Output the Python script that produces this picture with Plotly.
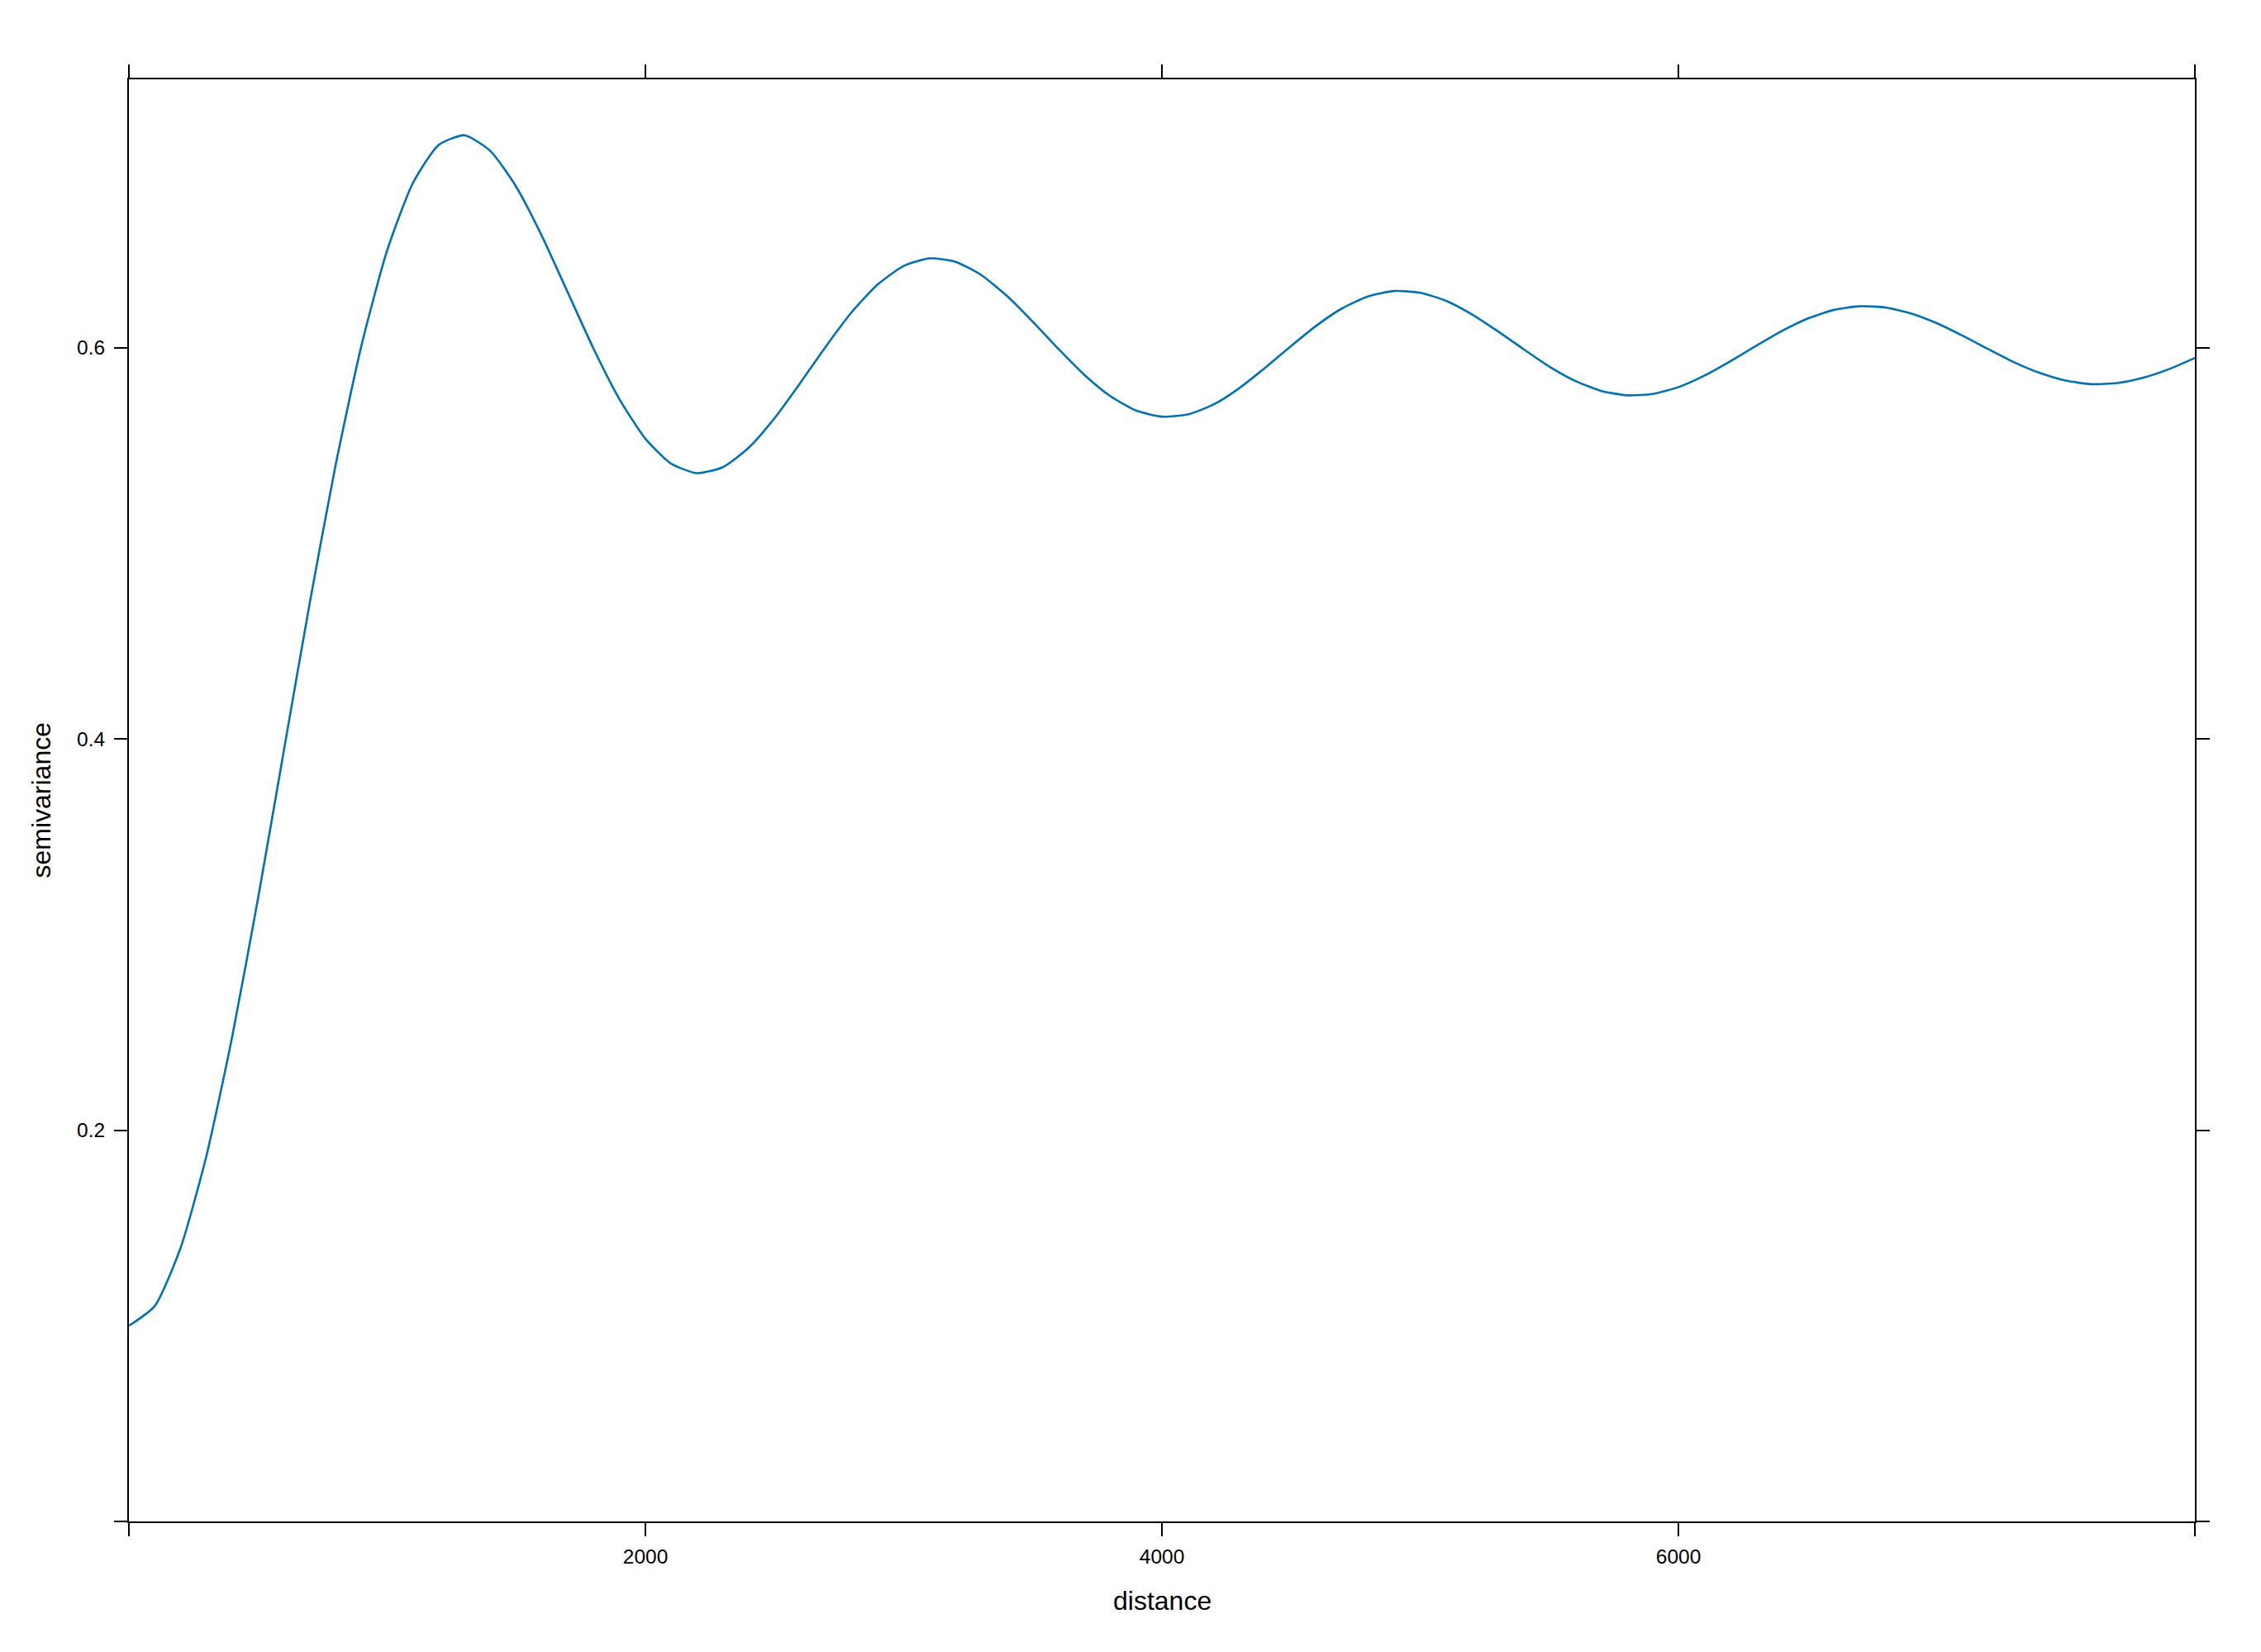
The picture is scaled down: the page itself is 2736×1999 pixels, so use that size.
import plotly.graph_objects as go

# distance values (every 100 units) and semivariance
distance = [
    0, 100, 200, 300, 400, 500, 600, 700, 800, 900,
    1000, 1100, 1200, 1300, 1400, 1500, 1600, 1700, 1800, 1900,
    2000, 2100, 2200, 2300, 2400, 2500, 2600, 2700, 2800, 2900,
    3000, 3100, 3200, 3300, 3400, 3500, 3600, 3700, 3800, 3900,
    4000, 4100, 4200, 4300, 4400, 4500, 4600, 4700, 4800, 4900,
    5000, 5100, 5200, 5300, 5400, 5500, 5600, 5700, 5800, 5900,
    6000, 6100, 6200, 6300, 6400, 6500, 6600, 6700, 6800, 6900,
    7000, 7100, 7200, 7300, 7400, 7500, 7600, 7700, 7800, 7900,
    8000,
]
semivariance = [
    0.1000, 0.1101, 0.1398, 0.1868, 0.2478, 0.3185, 0.3940, 0.4693, 0.5397, 0.6008,
    0.6497, 0.6842, 0.7036, 0.7085, 0.7004, 0.6821, 0.6568, 0.6280, 0.5992, 0.5735,
    0.5534, 0.5406, 0.5358, 0.5389, 0.5488, 0.5639, 0.5820, 0.6008, 0.6183, 0.6323,
    0.6417, 0.6456, 0.6439, 0.6371, 0.6264, 0.6132, 0.5992, 0.5860, 0.5752, 0.5678,
    0.5647, 0.5658, 0.5709, 0.5793, 0.5897, 0.6008, 0.6114, 0.6202, 0.6262, 0.6289,
    0.6280, 0.6239, 0.6170, 0.6084, 0.5992, 0.5903, 0.5830, 0.5779, 0.5756, 0.5763,
    0.5798, 0.5856, 0.5929, 0.6008, 0.6084, 0.6148, 0.6192, 0.6211, 0.6205, 0.6175,
    0.6125, 0.6061, 0.5992, 0.5925, 0.5870, 0.5831, 0.5813, 0.5819, 0.5846, 0.5890,
    0.5947,
]

x_tickvals = [0, 2000, 4000, 6000, 8000]
x_ticktext = ["", "2000", "4000", "6000", ""]
y_tickvals = [0, 0.2, 0.4, 0.6]
y_ticktext = ["", "0.2", "0.4", "0.6"]

FONT = "Liberation Sans, Arial, sans-serif"

fig = go.Figure()
fig.add_trace(go.Scatter(
    x=distance, y=semivariance, mode="lines",
    line=dict(color="#0072B2", width=2.6, shape="spline", smoothing=0.6),
    showlegend=False, hoverinfo="x+y",
))

axis_common = dict(
    showgrid=False, zeroline=False,
    showline=True, linecolor="black", linewidth=2,
    mirror="ticks", ticks="outside", ticklen=16, tickwidth=2, tickcolor="black",
    tickfont=dict(family=FONT, size=24.5, color="black"),
)

fig.update_layout(
    width=2736, height=1999,
    paper_bgcolor="white", plot_bgcolor="white",
    margin=dict(l=148, r=88, t=88, b=166),
    xaxis=dict(range=[0, 8000], tickmode="array", tickvals=x_tickvals,
               ticktext=x_ticktext, ticklabelstandoff=4, **axis_common),
    yaxis=dict(range=[0, 0.7371], tickmode="array", tickvals=y_tickvals,
               ticktext=y_ticktext, ticklabelstandoff=6, **axis_common),
    annotations=[
        dict(text="distance", xref="paper", yref="paper", x=0.5, y=-0.055,
             xanchor="center", yanchor="middle", showarrow=False,
             font=dict(family=FONT, size=32, color="black")),
        dict(text="semivariance", xref="paper", yref="paper", x=-0.0428, y=0.5,
             xanchor="center", yanchor="middle", showarrow=False, textangle=-90,
             font=dict(family=FONT, size=32, color="black")),
    ],
)

fig.write_html("out.html")
